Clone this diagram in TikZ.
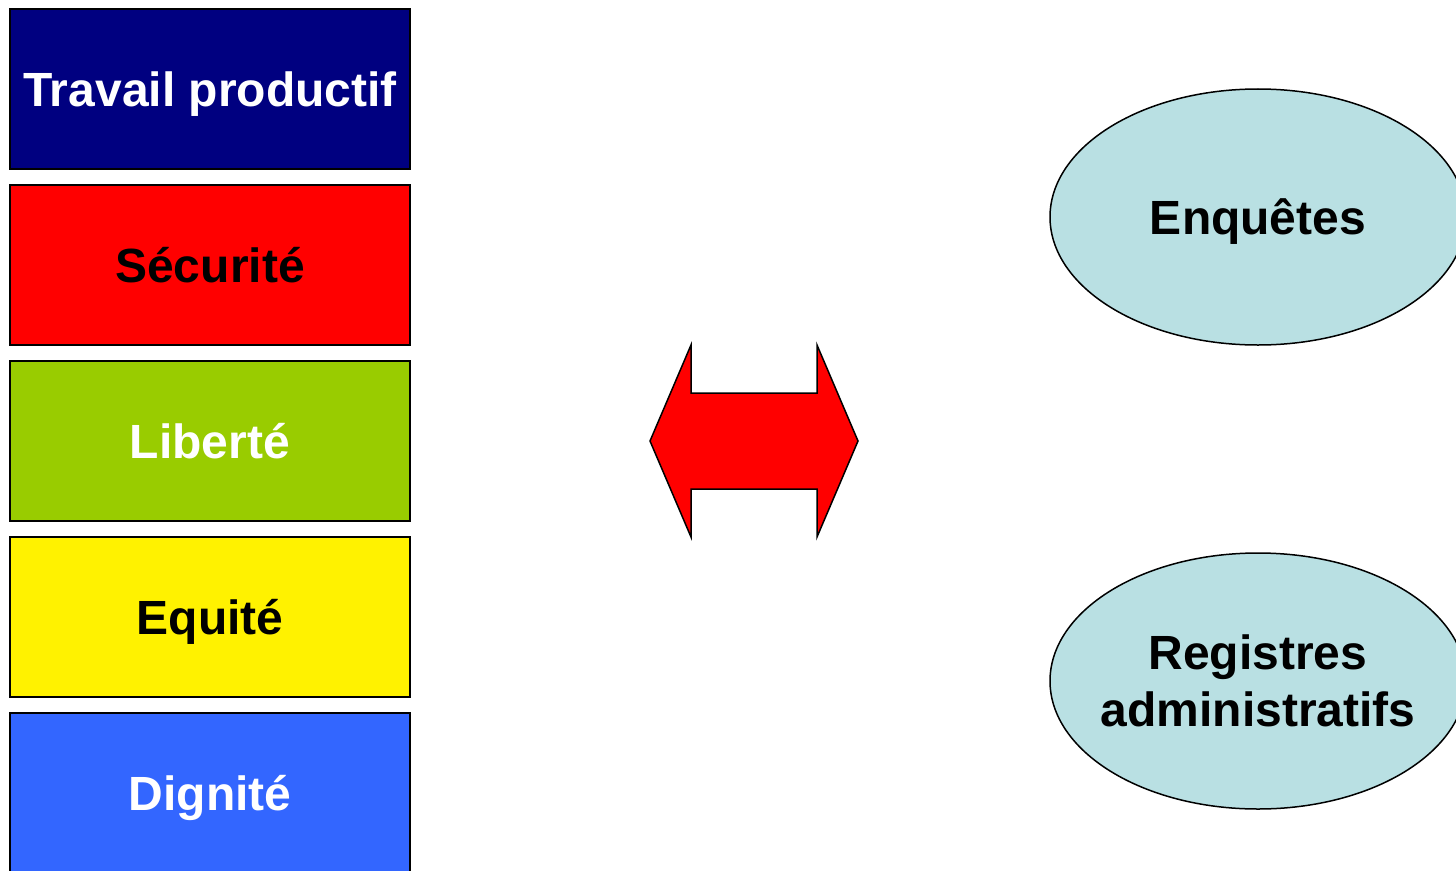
\documentclass[tikz,border=0pt]{standalone}
\usepackage{fontspec}
\setmainfont{Liberation Sans}
\usepackage{tikz}
\usetikzlibrary{shapes.geometric}
\definecolor{navybox}{RGB}{0,0,128}
\definecolor{greenbox}{RGB}{153,204,0}
\definecolor{bluebox}{RGB}{51,102,255}
\definecolor{sourcefill}{RGB}{185,224,227}

\begin{document}
\begin{tikzpicture}[x=1bp,y=-1bp]
	\useasboundingbox (0,0) rectangle (1456,870);
	\clip (0,0) rectangle (1456,870);

	\begin{scope}[every node/.style={rectangle,draw=black,line width=2bp,
	              minimum width=400bp,minimum height=160bp,inner sep=0pt,
	              text depth=0pt,
	              font=\fontsize{48bp}{57bp}\selectfont\bfseries}]
		\node[fill=navybox,text=white] (travail) at (210,89) {Travail productif};
		\node[fill=red,text=black] (securite) at (210,265) {Sécurité};
		\node[fill=greenbox,text=white] (liberte) at (210,441) {Liberté};
		\node[fill=yellow,text=black] (equite) at (210,617) {Equité};
		\node[fill=bluebox,text=white] (dignite) at (210,793) {Dignité};
	\end{scope}

	\begin{scope}[every node/.style={ellipse,draw=black,line width=1.5bp,
	              fill=sourcefill,minimum width=416bp,minimum height=256bp,
	              inner xsep=-20bp,inner ysep=0pt,align=center,
	              font=\fontsize{48bp}{57bp}\selectfont\bfseries}]
		\node[text depth=0pt] (enquetes) at (1258,217) {Enquêtes};
		\node (registres) at (1258,681) {Registres\\administratifs};
	\end{scope}

	% double arrow between the two columns
	\draw[fill=red,line width=1.5bp,line join=miter]
		(650,441) -- (691,345) -- (691,393) -- (817,393) -- (817,345)
		-- (858,441) -- (817,537) -- (817,489) -- (691,489) -- (691,537) -- cycle;
\end{tikzpicture}
\end{document}
